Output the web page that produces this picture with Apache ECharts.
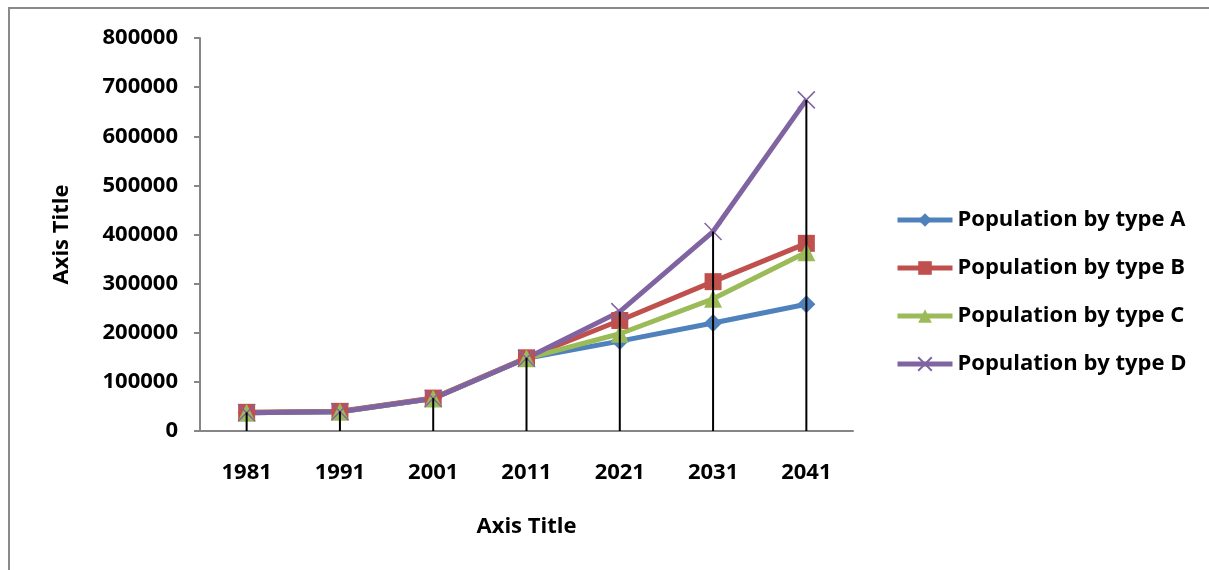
<!DOCTYPE html>
<html>
<head>
<meta charset="utf-8">
<script src="https://cdn.jsdelivr.net/npm/echarts@6/dist/echarts.min.js"></script>
<style>html,body{margin:0;padding:0;background:#fff}#c{width:1209px;height:570px}</style>
</head>
<body>
<div id="c"></div>
<script>
var categories = ['1981','1991','2001','2011','2021','2031','2041'];
var seriesNames = ['Population by type A','Population by type B','Population by type C','Population by type D'];
var typeA = [37000, 39000, 66000, 148000, 183000, 220000, 258000];
var typeB = [38000, 40000, 67000, 149000, 225000, 304000, 382000];
var typeC = [37000, 39000, 66000, 148000, 198000, 269000, 364000];
var typeD = [37000, 39000, 66000, 148000, 243000, 406000, 674000];
var yTicks = [0, 100000, 200000, 300000, 400000, 500000, 600000, 700000, 800000];

var colors = ['#4F81BD', '#C0504D', '#9BBB59', '#8064A2'];
var FONT = '"Open Sans", sans-serif';
var FS = 22;
var dropLines = categories.map(function (c, i) {
  return Math.max(typeA[i], typeB[i], typeC[i], typeD[i]);
});

function lineSeries(name, data, color, symbol, size, extra) {
  var s = {
    name: name, type: 'line', data: data, symbol: symbol, symbolSize: size,
    showAllSymbol: true,
    lineStyle: { color: color, width: 5 },
    itemStyle: { color: color },
    z: 2
  };
  for (var k in extra) s[k] = extra[k];
  return s;
}

var chart = echarts.init(document.getElementById('c'), null, { renderer: 'canvas' });
chart.setOption({
  animation: false,
  backgroundColor: '#fff',
  color: colors,
  graphic: [{
    type: 'rect', shape: { x: 9, y: 8, width: 1400, height: 800 },
    style: { fill: 'none', stroke: '#8a8a8a', lineWidth: 2 }, silent: true, z: -1
  }],
  grid: { left: 200, right: 356, top: 38, bottom: 139 },
  legend: {
    data: seriesNames,
    orient: 'vertical', left: 890, top: 204,
    itemWidth: 55, itemHeight: 17, itemGap: 26,
    lineStyle: { width: 5 },
    textStyle: { fontFamily: FONT, fontWeight: 'bold', fontSize: FS, color: '#000' }
  },
  xAxis: {
    type: 'category', data: categories, boundaryGap: true,
    name: 'Axis Title', nameLocation: 'middle', nameGap: 85,
    nameTextStyle: { fontFamily: FONT, fontWeight: 'bold', fontSize: FS, color: '#000' },
    axisLine: { lineStyle: { color: '#868686', width: 2 } },
    axisTick: { show: false },
    axisLabel: { margin: 31, fontFamily: FONT, fontWeight: 'bold', fontSize: FS, color: '#000' }
  },
  yAxis: {
    type: 'value', min: yTicks[0], max: yTicks[yTicks.length - 1], interval: yTicks[1] - yTicks[0],
    name: 'Axis Title', nameLocation: 'middle', nameGap: 127, nameRotate: 90,
    nameTextStyle: { fontFamily: FONT, fontWeight: 'bold', fontSize: FS, color: '#000' },
    axisLine: { show: true, lineStyle: { color: '#868686', width: 2 } },
    axisTick: { show: true, length: 6, lineStyle: { color: '#868686', width: 2 } },
    splitLine: { show: false },
    axisLabel: { margin: 22, fontFamily: FONT, fontWeight: 'bold', fontSize: FS, color: '#000',
      formatter: function (v) { return String(v); } }
  },
  series: [
    lineSeries(seriesNames[0], typeA, colors[0], 'diamond', 18, {}),
    lineSeries(seriesNames[1], typeB, colors[1], 'rect', 17, {}),
    lineSeries(seriesNames[2], typeC, colors[2], 'triangle', 18, {}),
    lineSeries(seriesNames[3], typeD, colors[3], 'path://M0,0L10,10M10,0L0,10', 17, {
      itemStyle: { color: colors[3], borderColor: colors[3], borderWidth: 1.5 }
    }),
    {
      name: 'drop', type: 'bar', data: dropLines, barWidth: 2,
      itemStyle: { color: '#000' }, z: 3, silent: true
    }
  ]
});
</script>
</body>
</html>
